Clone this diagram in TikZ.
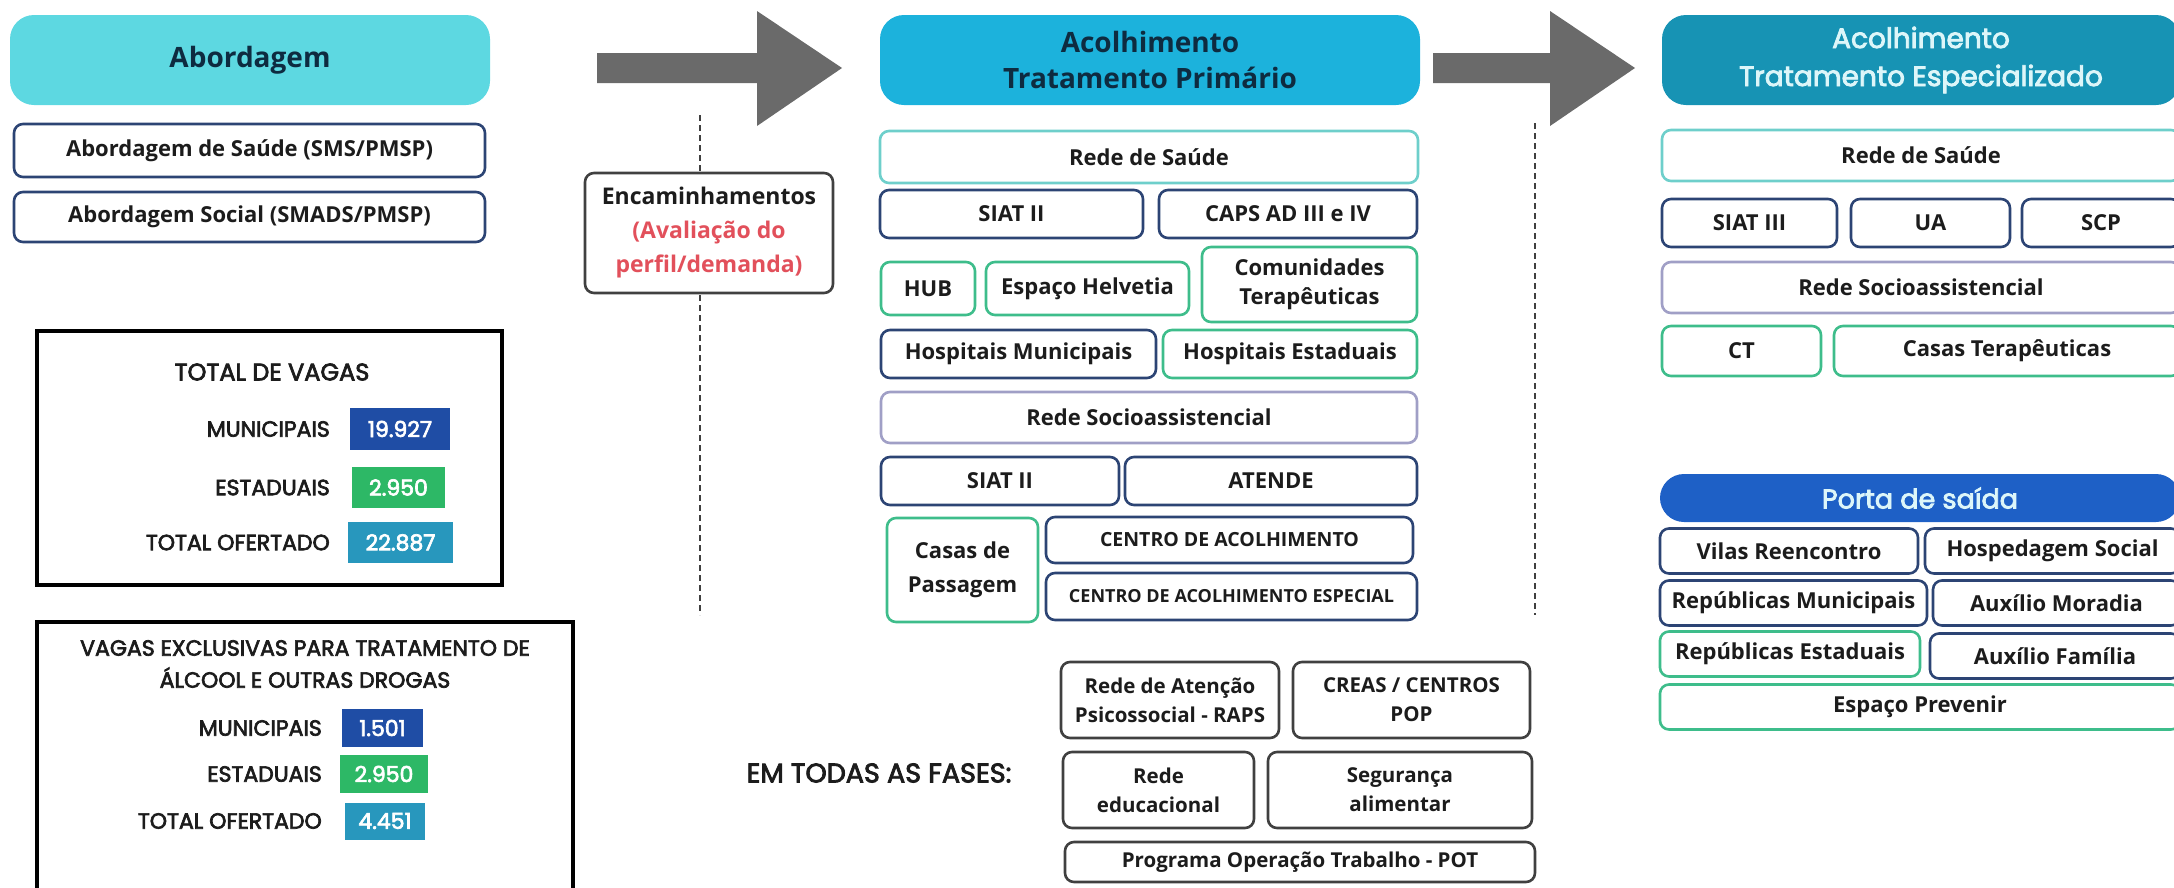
\documentclass[tikz,border=0pt]{standalone}
\usepackage{fontspec}
\setmainfont{Open Sans}
\newfontfamily\popmed{Poppins}[FakeBold=3]
\usetikzlibrary{positioning}

\definecolor{hdrcyan}{HTML}{5DD8E1}
\definecolor{hdrprim}{HTML}{1CB2DC}
\definecolor{hdresp}{HTML}{1793B4}
\definecolor{hdrsaida}{HTML}{1E60C6}
\definecolor{navytxt}{HTML}{0E2B40}
\definecolor{esptxt}{HTML}{DDF6F9}
\definecolor{txtdark}{HTML}{1C1C1C}
\definecolor{bordblue}{HTML}{2C4474}
\definecolor{bordgreen}{HTML}{3EBD8B}
\definecolor{bordteal}{HTML}{6ECFCB}
\definecolor{bordlav}{HTML}{A09FC6}
\definecolor{bordgray}{HTML}{404040}
\definecolor{valmun}{HTML}{1F4DA5}
\definecolor{valest}{HTML}{2DB866}
\definecolor{valtot}{HTML}{2897BD}
\definecolor{arrgray}{HTML}{6A6A6A}
\definecolor{encred}{HTML}{E2505B}

\begin{document}
\begin{tikzpicture}[
        x=1pt, y=-1pt,
        wh/.style 2 args={
            minimum width=#1pt,
            minimum height=#2pt,
        },
        hdr/.style={
            rectangle,
            rounded corners=24pt,
            inner sep=0pt,
            align=center,
        },
        item/.style={
            rectangle,
            draw,
            fill=white,
            line width=2.6pt,
            rounded corners=9pt,
            inner sep=0pt,
            align=center,
            text=txtdark,
            font=\fontsize{22}{29}\selectfont\bfseries,
        },
        ib/.style={item, draw=bordblue},
        ig/.style={item, draw=bordgreen},
        it/.style={item, draw=bordteal},
        il/.style={item, draw=bordlav},
        ik/.style={item, draw=bordgray},
        statframe/.style={
            rectangle,
            draw=black,
            line width=4pt,
            inner sep=0pt,
        },
        slbl/.style={
            anchor=east,
            inner sep=0pt,
            text=txtdark,
            font=\popmed\fontsize{22}{26}\selectfont,
        },
        sval/.style={
            rectangle,
            inner sep=0pt,
            text=white,
            font=\popmed\fontsize{22}{26}\selectfont,
        },
        dashline/.style={
            draw=bordgray,
            line width=1.6pt,
            dash pattern=on 6pt off 4pt,
        },
    ]
    \useasboundingbox (0,0) rectangle (2174,887);

    % Dashed separators
    \coordinate (d1top) at (700,115);
    \coordinate (d1bot) at (700,615);
    \coordinate (d2top) at (1535,123);
    \coordinate (d2bot) at (1535,615);

    % Big arrows between the phases
    \fill[arrgray] (597,53) -- (757,53) -- (757,11) -- (842,68) -- (757,126) -- (757,83) -- (597,83) -- cycle;
    \fill[arrgray] (1433,53) -- (1550,53) -- (1550,11) -- (1635,68) -- (1550,126) -- (1550,83) -- (1433,83) -- cycle;

    % Column 1: Abordagem
    \node [hdr, fill=hdrcyan, wh={480}{90}, text=navytxt, font=\fontsize{28}{34}\selectfont\bfseries] (hdrA) at (250,60) {Abordagem};
    \node [ib, wh={471}{53}] (absaude) at (249.5,150.5) {Abordagem de Saúde (SMS/PMSP)};
    \node [ib, wh={471}{50}] (absocial) at (249.5,217) {Abordagem Social (SMADS/PMSP)};

    % Total de vagas
    \node [statframe, wh={465}{254}] (totvagas) at (269.5,458) {};
    \node [inner sep=0pt, text=txtdark, font=\popmed\fontsize{24}{28}\selectfont] (tottit) at (272,372) {TOTAL DE VAGAS};
    \node [slbl] (tmunl) at (330,429) {MUNICIPAIS};
    \node [slbl] (testl) at (330,487.5) {ESTADUAIS};
    \node [slbl] (ttotl) at (330,542.5) {TOTAL OFERTADO};
    \node [sval, fill=valmun, wh={100}{42}] (tmunv) at (400,429) {19.927};
    \node [sval, fill=valest, wh={93}{41}] (testv) at (398.5,487.5) {2.950};
    \node [sval, fill=valtot, wh={105}{41}] (ttotv) at (400.5,542.5) {22.887};

    % Vagas exclusivas
    \node [statframe, wh={536}{273}] (vagas) at (305,758.5) {};
    \node [inner sep=0pt, align=center, text=txtdark, font=\popmed\fontsize{22}{32}\selectfont] (vagtit) at (305,664) {VAGAS EXCLUSIVAS PARA TRATAMENTO DE\\ÁLCOOL E OUTRAS DROGAS};
    \node [slbl] (vmunl) at (322,728) {MUNICIPAIS};
    \node [slbl] (vestl) at (322,774) {ESTADUAIS};
    \node [slbl] (vtotl) at (322,821) {TOTAL OFERTADO};
    \node [sval, fill=valmun, wh={81}{38}] (vmunv) at (382.5,728) {1.501};
    \node [sval, fill=valest, wh={88}{38}] (vestv) at (384,774) {2.950};
    \node [sval, fill=valtot, wh={80}{37}] (vtotv) at (385,821) {4.451};

    % Encaminhamentos
    \draw [dashline] (d1top) -- (d1bot);
    \node [ik, wh={248}{120}, font=\fontsize{23}{34}\selectfont\bfseries] (enc) at (709,233) {Encaminhamentos\\\textcolor{encred}{(Avaliação do}\\\textcolor{encred}{perfil/demanda)}};

    % Column 2: Tratamento primario
    \node [hdr, fill=hdrprim, wh={540}{90}, text=navytxt, font=\fontsize{28}{36}\selectfont\bfseries] (hdrP) at (1150,60) {Acolhimento\\Tratamento Primário};
    \node [it, wh={538}{52}] (msaude) at (1149,157) {Rede de Saúde};
    \node [ib, wh={263}{48}] (msiat) at (1011.5,214) {SIAT II};
    \node [ib, wh={258}{48}] (mcaps) at (1288,214) {CAPS AD III e IV};
    \node [ig, wh={94}{53}] (mhub) at (928,288.5) {HUB};
    \node [ig, wh={203}{53}] (mhelv) at (1087.5,288.5) {Espaço Helvetia};
    \node [ig, wh={215}{75}] (mcomu) at (1309.5,284.5) {Comunidades\\Terapêuticas};
    \node [ib, wh={275}{48}] (mhmun) at (1018.5,354) {Hospitais Municipais};
    \node [ig, wh={254}{48}] (mhest) at (1290,354) {Hospitais Estaduais};
    \node [il, wh={536}{51}] (msocio) at (1149,417.5) {Rede Socioassistencial};
    \node [ib, wh={238}{48}] (msiat2) at (1000,481) {SIAT II};
    \node [ib, wh={292}{48}] (matende) at (1271,481) {ATENDE};
    \node [ig, wh={151}{104}, font=\fontsize{22}{34}\selectfont\bfseries] (mcasas) at (962.5,570) {Casas de\\Passagem};
    \node [ib, wh={367}{46}, font=\fontsize{19.5}{24}\selectfont\bfseries] (mcentro) at (1229.5,540) {CENTRO DE ACOLHIMENTO};
    \node [ib, wh={371}{47}, font=\fontsize{18}{22}\selectfont\bfseries] (mcentroe) at (1231.5,596.5) {CENTRO DE ACOLHIMENTO ESPECIAL};

    % Em todas as fases
    \node [inner sep=0pt, text=txtdark, font=\popmed\fontsize{27}{32}\selectfont] (fases) at (879,773) {EM TODAS AS FASES:};
    \node [ik, wh={218}{76}, font=\fontsize{20.5}{29}\selectfont\bfseries] (braps) at (1170,700) {Rede de Atenção\\Psicossocial - RAPS};
    \node [ik, wh={237}{76}, font=\fontsize{20.5}{29}\selectfont\bfseries] (bcreas) at (1411.5,700) {CREAS / CENTROS\\POP};
    \node [ik, wh={191}{76}, font=\fontsize{20.5}{29}\selectfont\bfseries] (bedu) at (1158.5,790) {Rede\\educacional};
    \node [ik, wh={264}{76}, font=\fontsize{20.5}{29}\selectfont\bfseries] (bseg) at (1400,790) {Segurança\\alimentar};
    \node [ik, wh={470}{40}, font=\fontsize{20.5}{29}\selectfont\bfseries] (bpot) at (1300,862) {Programa Operação Trabalho - POT};

    % Column 3: Tratamento especializado
    \draw [dashline] (d2top) -- (d2bot);
    \node [hdr, fill=hdresp, wh={518}{90}, text=esptxt, font=\popmed\fontsize{28}{38}\selectfont] (hdrE) at (1921,60) {Acolhimento\\Tratamento Especializado};
    \node [it, wh={518}{51}] (rsaude) at (1921,155.5) {Rede de Saúde};
    \node [ib, wh={175}{48}] (rsiat3) at (1749.5,223) {SIAT III};
    \node [ib, wh={159}{48}] (rua) at (1930.5,223) {UA};
    \node [ib, wh={158}{48}] (rscp) at (2101,223) {SCP};
    \node [il, wh={518}{51}] (rsocio) at (1921,287.5) {Rede Socioassistencial};
    \node [ig, wh={159}{50}] (rct) at (1741.5,351) {CT};
    \node [ig, wh={346}{50}] (rcasas) at (2007,351) {Casas Terapêuticas};

    % Porta de saida
    \node [hdr, fill=hdrsaida, wh={520}{48}, text=esptxt, font=\popmed\fontsize{27}{32}\selectfont] (hdrS) at (1920,498) {Porta de saída};
    \node [ib, wh={258}{45}] (rvilas) at (1789,551) {Vilas Reencontro};
    \node [ib, wh={255}{45}] (rhosp) at (2052.5,551) {Hospedagem Social};
    \node [ib, wh={267}{45}] (rrepm) at (1793.5,603) {Repúblicas Municipais};
    \node [ib, wh={247}{45}] (rauxm) at (2056.5,603) {Auxílio Moradia};
    \node [ig, wh={260}{45}] (rrepe) at (1790,654) {Repúblicas Estaduais};
    \node [ib, wh={250}{45}] (rauxf) at (2055,656) {Auxílio Família};
    \node [ig, wh={520}{45}] (rprev) at (1920,707) {Espaço Prevenir};

\end{tikzpicture}
\end{document}
